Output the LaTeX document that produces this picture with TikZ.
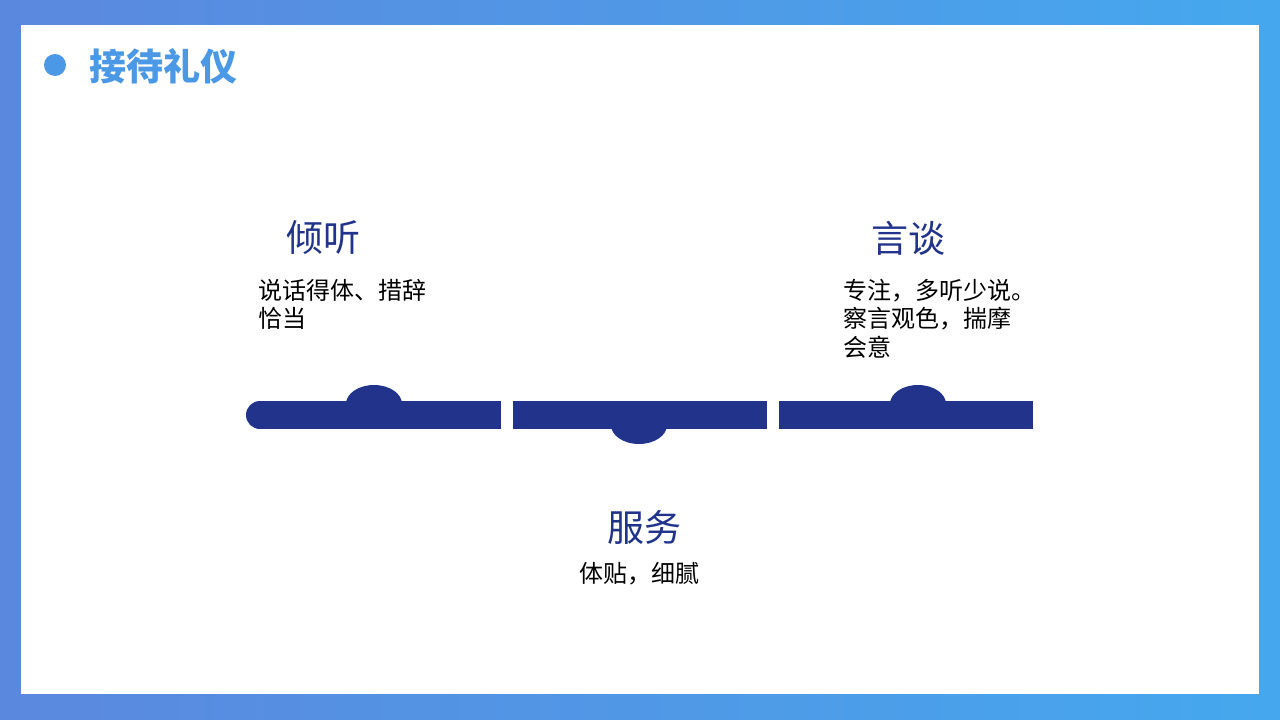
\documentclass[tikz,border=0pt]{standalone}
\usepackage{fontspec}
\newfontfamily\cjk{Noto Sans CJK SC}
\definecolor{gradL}{HTML}{5B88DF}
\definecolor{gradR}{HTML}{45A8EE}
\definecolor{navy}{HTML}{21338A}
\definecolor{titleblue}{HTML}{4A98E6}
\tikzset{
  head/.style={font=\cjk\fontsize{37}{44}\selectfont, text=navy, inner sep=0pt},
  body/.style={font=\cjk\fontsize{24}{28.5}\selectfont, text=black, inner sep=0pt, align=left, anchor=north west},
  barfill/.style={fill=navy}
}
\begin{document}
\begin{tikzpicture}[x=1pt,y=-1pt]
\useasboundingbox (0,0) rectangle (1280,720);
\shade[left color=gradL, right color=gradR] (0,0) rectangle (1280,720);
\fill[white] (21,25) rectangle (1259,694);
% title
\fill[titleblue] (55,65) circle (11);
\node[font=\cjk\bfseries\fontsize{37}{44}\selectfont, text=titleblue, anchor=west, inner sep=0pt] (title) at (89,66) {接待礼仪};
% bars
\fill[barfill] (260,415) circle (14);
\fill[barfill] (260,401) rectangle (501,429);
\fill[barfill] (513,401) rectangle (767,429);
\fill[barfill] (779,401) rectangle (1033,429);
\fill[barfill] (374,404) ellipse [x radius=28, y radius=19];
\fill[barfill] (639,425) ellipse [x radius=28, y radius=19];
\fill[barfill] (918,404) ellipse [x radius=28, y radius=19];
% texts
\node[head] (h1) at (323,238) {倾听};
\node[body] (b1) at (258,279) {说话得体、措辞\\恰当};
\node[head] (h2) at (908,238) {言谈};
\node[body] (b2) at (843,279) {专注，多听少说。\\察言观色，揣摩\\会意};
\node[head] (h3) at (644,527) {服务};
\node[body, anchor=north] (b3) at (639,562) {体贴，细腻};
\end{tikzpicture}
\end{document}
